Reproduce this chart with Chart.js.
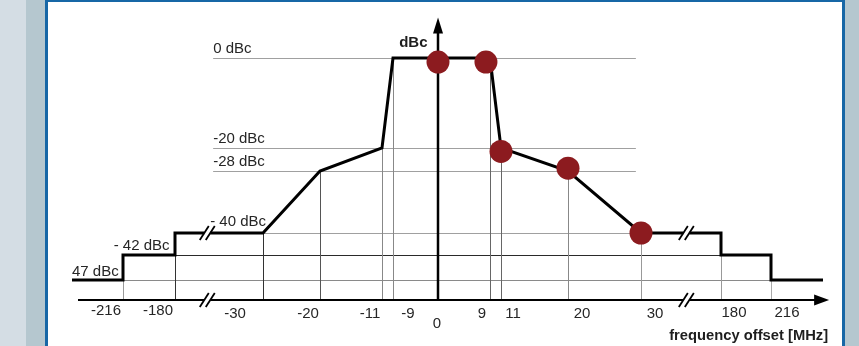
<!DOCTYPE html>
<html>
<head>
<meta charset="utf-8">
<title>Spectrum emission mask</title>
<script src="https://cdn.jsdelivr.net/npm/chart.js@4.4.1/dist/chart.umd.min.js"></script>
<style>
  html, body { margin: 0; padding: 0; background: #fff; overflow: hidden; }
  canvas { display: block; }
</style>
</head>
<body>
<canvas id="mask" width="859" height="346"></canvas>
<script>
// Spectrum emission mask: corner frequencies (MHz) and limits (dBc)
const maskFreq  = [-250, -216, -216, -180, -180, -30, -20, -11, -9, 9, 11, 20, 30, 180, 180, 216, 216, 250];
const maskLevel = [-47, -47, -42, -42, -40, -40, -28, -20, 0, 0, -20, -28, -40, -40, -42, -42, -47, -47];

// Measured spectrum points (MHz, dBc)
const measFreq  = [0, 8.3, 11, 20, 30];
const measLevel = [-0.9, -0.9, -21.2, -27, -40];

// Frequency axis ticks
const tickFreq   = [-216, -180, -30, -20, -11, -9, 0, 9, 11, 20, 30, 180, 216];
const tickLabels = ['-216', '-180', '-30', '-20', '-11', '-9', '0', '9', '11', '20', '30', '180', '216'];

// Limit levels and their labels
const levelValues = [0, -20, -28, -40, -42, -47];
const levelLabels = ['0 dBc', '-20 dBc', '-28 dBc', '- 40 dBc', '- 42 dBc', '47 dBc'];

// Axis extents and the places where the frequency axis is broken
const freqRange  = [-246, 254];
const levelRange = [-52, 9];
const breakFreq  = [-125, 115];

const axisTitle  = 'frequency offset [MHz]';
const levelTitle = 'dBc';

// ---------------------------------------------------------------------------
// Piecewise-linear scale: the diagram compresses the far-out frequencies and
// uses uneven level spacing, so each axis is described by value/position pairs
// (position measured along the axis in a 859 x 346 layout).
class BrokenLinearScale extends Chart.LinearScale {
  _pos(value) {
    const a = this.options.anchors;
    let i = 0;
    while (i < a.length - 2 && value > a[i + 1][0]) i++;
    const [v0, p0] = a[i], [v1, p1] = a[i + 1];
    return p0 + (value - v0) * (p1 - p0) / (v1 - v0);
  }
  getPixelForValue(value) {
    const f = this._pos(value) / this.options.span;
    return this.isHorizontal() ? this.left + f * this.width : this.top + f * this.height;
  }
  getValueForPixel(pixel) {
    const a = this.options.anchors;
    const pos = (this.isHorizontal() ? (pixel - this.left) / this.width
                                     : (pixel - this.top) / this.height) * this.options.span;
    const inc = a[1][1] > a[0][1];
    let i = 0;
    while (i < a.length - 2 && (inc ? pos > a[i + 1][1] : pos < a[i + 1][1])) i++;
    const [v0, p0] = a[i], [v1, p1] = a[i + 1];
    return v0 + (pos - p0) * (v1 - v0) / (p1 - p0);
  }
}
BrokenLinearScale.id = 'brokenLinear';
BrokenLinearScale.defaults = Chart.LinearScale.defaults;
Chart.register(BrokenLinearScale);

// ---------------------------------------------------------------------------
const FONT = '"Liberation Sans", Arial, Helvetica, sans-serif';
const TEXT = '#262626';
const GREY = '#a0a0a0';
const DARK = '#2a2a2a';

// Horizontal guide spans per level (MHz) and colours
const levelGuides = [
  { from: -115, to: 29.3, color: GREY },
  { from: -115, to: 29.3, color: GREY },
  { from: -115, to: 29.3, color: GREY },
  { from: -30,  to: 30,   color: GREY },
  { from: -180, to: 180,  color: DARK },
  { from: -216, to: 216,  color: '#8a8a8a' }
];
// Level label placement: anchor frequency, alignment, pixel nudges
const levelLabelPos = [
  { f: -115, align: 'left',  dx: 0,    dy: -5.5 },
  { f: -115, align: 'left',  dx: 0,    dy: -5 },
  { f: -115, align: 'left',  dx: 0,    dy: -5.5 },
  { f: -30,  align: 'right', dx: 3,    dy: -7.5 },
  { f: -180, align: 'right', dx: -5.5, dy: -5.5 },
  { f: -250, align: 'left',  dx: 0,    dy: -4.5 }
];
// Vertical guide colours, one per tick
const tickGuideColor = ['#9a9a9a', '#333', '#333', '#555', '#888', '#888', null,
                        '#666', '#666', '#888', '#999', '#999', '#aaa'];
// Tick label nudges (pixels from the tick position on the axis line)
const tickLabelPos = [
  [-17, 15.4], [-17, 15.4], [-28, 18.4], [-12, 18.4], [-12, 18.4], [15, 18.4], [-1, 28.4],
  [-8, 18.4], [12, 18.4], [14, 18.4], [14, 18.4], [13, 17.4], [16, 17.4]
];

// Level of the mask at a frequency (upper value where the mask steps)
function maskTop(f) {
  let best = -Infinity;
  maskFreq.forEach((mf, i) => { if (mf === f) best = Math.max(best, maskLevel[i]); });
  if (best > -Infinity) return best;
  for (let i = 0; i < maskFreq.length - 1; i++) {
    const a = maskFreq[i], b = maskFreq[i + 1];
    if (f > a && f < b) return maskLevel[i] + (f - a) * (maskLevel[i + 1] - maskLevel[i]) / (b - a);
  }
  return maskLevel[0];
}

function drawBreak(ctx, x, y, gapH) {
  ctx.save();
  ctx.fillStyle = '#ffffff';
  ctx.fillRect(x - 3, y - gapH / 2, 6, gapH);
  ctx.strokeStyle = '#000';
  ctx.lineWidth = 1.8;
  ctx.lineCap = 'butt';
  for (const o of [-3, 3]) {
    ctx.beginPath();
    ctx.moveTo(x + o - 4.5, y + 7);
    ctx.lineTo(x + o + 4.5, y - 7);
    ctx.stroke();
  }
  ctx.restore();
}

const maskDiagram = {
  id: 'maskDiagram',
  beforeDraw(chart) {
    const ctx = chart.ctx, W = chart.width, H = chart.height;
    ctx.save();
    ctx.fillStyle = '#ffffff'; ctx.fillRect(0, 0, W, H);
    ctx.fillStyle = '#d4dde4'; ctx.fillRect(0, 0, 26, H);
    ctx.fillStyle = '#b5c7cf'; ctx.fillRect(26, 0, 19, H); ctx.fillRect(845, 0, W - 845, H);
    ctx.fillStyle = '#1767a6';
    ctx.fillRect(45, 0, 3, H); ctx.fillRect(842, 0, 3, H); ctx.fillRect(45, 0, 800, 2);
    ctx.restore();
  },
  beforeDatasetsDraw(chart) {
    const ctx = chart.ctx;
    const X = v => chart.scales.x.getPixelForValue(v);
    const Y = v => chart.scales.y.getPixelForValue(v);
    const crisp = p => Math.round(p - 0.5) + 0.5;
    const axisY = Y(levelRange[0]);
    ctx.save();
    ctx.lineWidth = 1;
    // horizontal guides at each limit level
    levelValues.forEach((lv, i) => {
      const g = levelGuides[i];
      const y = crisp(Y(lv));
      ctx.strokeStyle = g.color;
      ctx.beginPath(); ctx.moveTo(X(g.from), y); ctx.lineTo(X(g.to), y); ctx.stroke();
    });
    // vertical guides from the mask down to the frequency axis
    tickFreq.forEach((f, i) => {
      if (!tickGuideColor[i]) return;
      const x = crisp(X(f));
      ctx.strokeStyle = tickGuideColor[i];
      ctx.beginPath(); ctx.moveTo(x, Y(maskTop(f))); ctx.lineTo(x, axisY); ctx.stroke();
    });
    // frequency axis with arrow
    const x0 = X(freqRange[0]), x1 = X(freqRange[1]);
    ctx.strokeStyle = '#000'; ctx.fillStyle = '#000';
    ctx.lineWidth = 2;
    ctx.beginPath(); ctx.moveTo(x0, axisY); ctx.lineTo(x1 - 12, axisY); ctx.stroke();
    ctx.beginPath(); ctx.moveTo(x1, axisY); ctx.lineTo(x1 - 15, axisY - 5.5); ctx.lineTo(x1 - 15, axisY + 5.5); ctx.closePath(); ctx.fill();
    // level axis with arrow
    const yx = X(0), yTop = Y(levelRange[1]);
    ctx.lineWidth = 2.5;
    ctx.beginPath(); ctx.moveTo(yx, axisY); ctx.lineTo(yx, yTop + 12); ctx.stroke();
    ctx.beginPath(); ctx.moveTo(yx, yTop); ctx.lineTo(yx - 5, yTop + 16); ctx.lineTo(yx + 5, yTop + 16); ctx.closePath(); ctx.fill();
    // axis breaks
    breakFreq.forEach(f => drawBreak(ctx, X(f), axisY, 4));
    ctx.restore();
  },
  afterDatasetsDraw(chart) {
    const ctx = chart.ctx;
    const X = v => chart.scales.x.getPixelForValue(v);
    const Y = v => chart.scales.y.getPixelForValue(v);
    const axisY = Y(levelRange[0]);
    // breaks in the mask line
    breakFreq.forEach(f => drawBreak(ctx, X(f), Y(maskTop(f)), 5));
    ctx.save();
    ctx.fillStyle = TEXT;
    ctx.textBaseline = 'alphabetic';
    ctx.font = '15px ' + FONT;
    // limit labels
    levelLabels.forEach((t, i) => {
      const p = levelLabelPos[i];
      ctx.textAlign = p.align;
      ctx.fillText(t, X(p.f) + p.dx, Y(levelValues[i]) + p.dy);
    });
    // frequency tick labels
    ctx.textAlign = 'center';
    tickLabels.forEach((t, i) => {
      const [dx, dy] = tickLabelPos[i];
      ctx.fillText(t, X(tickFreq[i]) + dx, axisY + dy);
    });
    // axis titles
    ctx.fillStyle = '#1e1e1e';
    ctx.font = 'bold 15px ' + FONT;
    ctx.textAlign = 'right';
    ctx.fillText(levelTitle, X(0) - 10.5, Y(levelRange[1]) + 29.5);
    ctx.font = 'bold 14.75px ' + FONT;
    ctx.fillText(axisTitle, X(freqRange[1]) - 1, axisY + 40);
    ctx.restore();
  }
};

new Chart(document.getElementById('mask'), {
  type: 'scatter',
  data: {
    datasets: [
      {
        label: 'measured',
        data: measFreq.map((f, i) => ({ x: f, y: measLevel[i] })),
        showLine: false,
        pointRadius: 11.5,
        pointHoverRadius: 11.5,
        pointBackgroundColor: '#8c1b1f',
        pointBorderWidth: 0,
        order: 0
      },
      {
        label: 'mask',
        data: maskFreq.map((f, i) => ({ x: f, y: maskLevel[i] })),
        showLine: true,
        borderColor: '#000',
        borderWidth: 3,
        borderJoinStyle: 'miter',
        borderCapStyle: 'butt',
        pointRadius: 0,
        tension: 0,
        fill: false,
        order: 1
      }
    ]
  },
  options: {
    responsive: false,
    animation: false,
    events: [],
    layout: { padding: 0, autoPadding: false },
    plugins: { legend: { display: false }, tooltip: { enabled: false } },
    scales: {
      x: {
        type: 'brokenLinear', position: 'bottom', display: false, span: 859,
        anchors: [[-250, 72], [-216, 123], [-180, 175], [-30, 263], [-20, 320], [-11, 382], [-9, 393],
                  [0, 438], [9, 490], [11, 501], [20, 568], [30, 641], [180, 721], [216, 771], [250, 823]]
      },
      y: {
        type: 'brokenLinear', position: 'left', display: false, span: 346,
        anchors: [[-60, 340], [-52, 300], [-47, 280], [-42, 255], [-40, 233], [-28, 171], [-20, 148], [0, 58], [10, 13]]
      }
    }
  },
  plugins: [maskDiagram]
});
</script>
</body>
</html>
